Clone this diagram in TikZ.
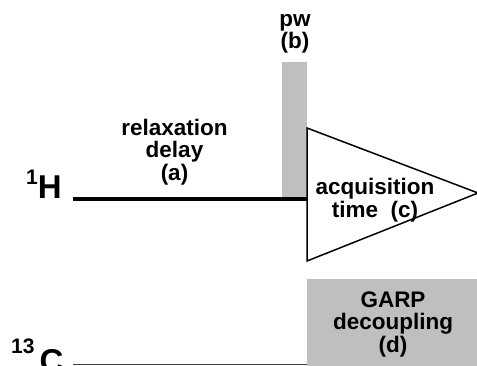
\documentclass[tikz,border=0pt]{standalone}
\usepackage{fontspec}
\setmainfont{Liberation Sans}
\begin{document}
\begin{tikzpicture}[x=1pt,y=-1pt,
  lbl/.style={font=\bfseries\fontsize{22.5}{22.5}\selectfont, align=center, inner sep=0pt},
  nuc/.style={font=\bfseries\fontsize{33}{33}\selectfont, inner sep=0pt, anchor=base west},
  sup/.style={font=\bfseries\fontsize{21}{21}\selectfont},
  pulse/.style={fill=black!25, draw=none}]
\useasboundingbox (0,0) rectangle (477,366);
\clip (0,0) rectangle (477,366);
\fill[white] (0,0) rectangle (477,366);
% channel end points
\coordinate (hstart) at (73,199);
\coordinate (hend) at (307,199);
\coordinate (cstart) at (73,364.5);
\coordinate (cend) at (307,364.5);
% 90 degree pulse on 1H
\fill[pulse] (282,62) rectangle (hend);
% broadband decoupling on 13C
\fill[pulse] (307,279) rectangle (480,370);
% acquisition (FID) triangle
\draw[line width=1.5pt, fill=white, line join=miter] (307,128) -- (478,193) -- (307,261) -- cycle;
% channel lines
\draw[line width=3.3pt] (hstart) -- (hend);
\draw[line width=1.2pt, black!75] (cstart) -- (cend);
% labels
\node[lbl] (relax) at (174.5,152) {relaxation\\delay\\(a)};
\node[lbl] (pw) at (295,34) {pw\\(b)};
\node[lbl] (acq) at (375,200) {acquisition\\time~~(c)};
\node[lbl] (garp) at (393,324) {GARP\\decoupling\\(d)};
% nuclei
\node[nuc] (h1) at (26,199) {\raisebox{14pt}{\fontsize{21}{21}\selectfont 1}H};
\node[nuc] (c13) at (11,372) {\raisebox{19pt}{\fontsize{21}{21}\selectfont 13}\hspace{5pt}C};
\end{tikzpicture}
\end{document}
